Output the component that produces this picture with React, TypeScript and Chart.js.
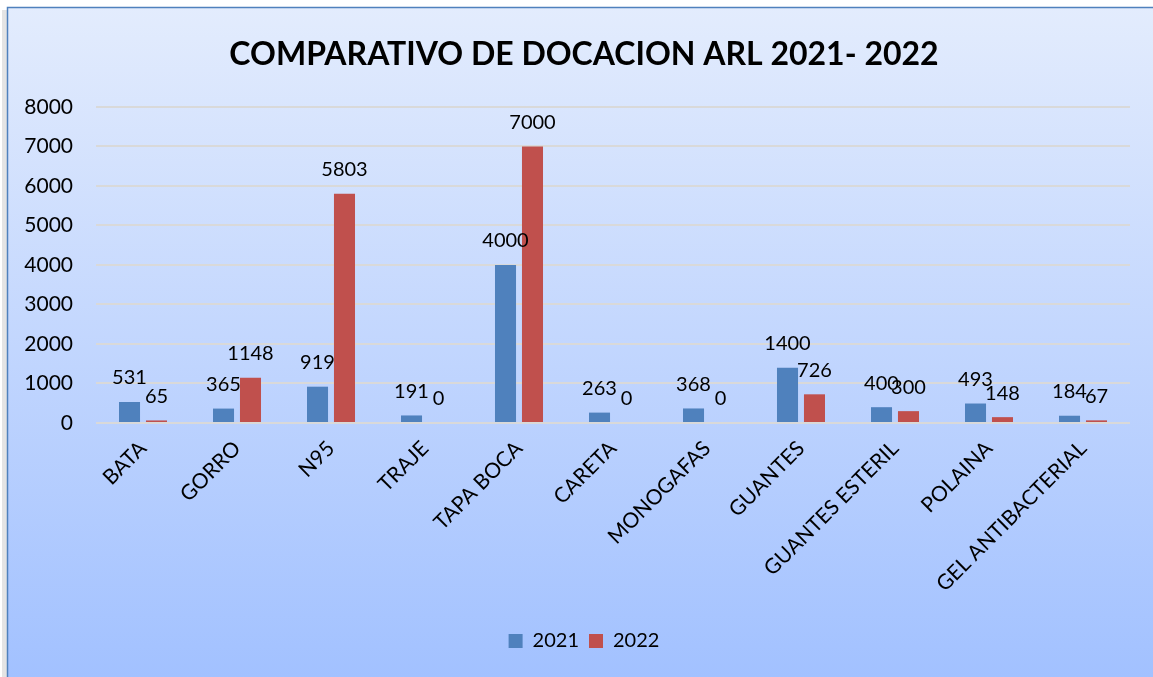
import React, { useEffect, useRef } from 'react';
import { Chart, registerables } from 'chart.js';

Chart.register(...registerables);

const categories = [
  'BATA',
  'GORRO',
  'N95',
  'TRAJE',
  'TAPA BOCA',
  'CARETA',
  'MONOGAFAS',
  'GUANTES',
  'GUANTES ESTERIL',
  'POLAINA',
  'GEL ANTIBACTERIAL',
];
const values2021 = [531, 365, 919, 191, 4000, 263, 368, 1400, 400, 493, 184];
const values2022 = [65, 1148, 5803, 0, 7000, 0, 0, 726, 300, 148, 67];
const seriesNames = ['2021', '2022'];
const yMax = 8000;
const yStep = 1000;
const chartTitle = 'COMPARATIVO DE DOCACION ARL 2021- 2022';

const FONT = 'Lato, "Open Sans", sans-serif';

const backgroundPlugin = {
  id: 'bgPanel',
  beforeDraw(chart: any) {
    const { ctx, width, height } = chart;
    ctx.save();
    ctx.fillStyle = '#ffffff';
    ctx.fillRect(0, 0, width, height);
    ctx.fillStyle = '#e4e4e4';
    ctx.fillRect(2, 10, 5, height - 10);
    const g = ctx.createLinearGradient(0, 7, 0, height);
    g.addColorStop(0, '#e3ecfd');
    g.addColorStop(1, '#a2c1ff');
    ctx.fillStyle = g;
    ctx.fillRect(7, 7, width - 7, height - 7);
    ctx.strokeStyle = '#4f81bd';
    ctx.lineWidth = 1.5;
    ctx.beginPath();
    ctx.moveTo(7.5, height);
    ctx.lineTo(7.5, 7.5);
    ctx.lineTo(width, 7.5);
    ctx.stroke();
    ctx.restore();
  },
};

const dataLabelPlugin = {
  id: 'barValueLabels',
  afterDatasetsDraw(chart: any) {
    const { ctx } = chart;
    ctx.save();
    ctx.font = `20px ${FONT}`;
    ctx.fillStyle = '#000000';
    ctx.textAlign = 'center';
    ctx.textBaseline = 'middle';
    chart.data.datasets.forEach((ds: any, di: number) => {
      const meta = chart.getDatasetMeta(di);
      meta.data.forEach((bar: any, i: number) => {
        ctx.fillText(String(ds.data[i]), bar.x, bar.y - 24);
      });
    });
    ctx.restore();
  },
};

export default function App() {
  const canvasRef = useRef<HTMLCanvasElement | null>(null);

  useEffect(() => {
    document.body.style.margin = '0';
    const canvas = canvasRef.current;
    if (!canvas) return;
    const chart = new Chart(canvas, {
      type: 'bar',
      data: {
        labels: categories,
        datasets: [
          {
            label: seriesNames[0],
            data: values2021,
            backgroundColor: '#4f81bd',
            categoryPercentage: 0.574,
            barPercentage: 0.78,
          },
          {
            label: seriesNames[1],
            data: values2022,
            backgroundColor: '#c0504d',
            categoryPercentage: 0.574,
            barPercentage: 0.78,
          },
        ],
      },
      options: {
        animation: false,
        responsive: false,
        devicePixelRatio: 1,
        layout: { padding: { left: 0, right: -15, top: 0, bottom: 16 } },
        plugins: {
          title: {
            display: true,
            text: chartTitle,
            color: '#000000',
            font: { family: FONT, size: 32, weight: 'bold' },
            padding: { top: 35.5, bottom: 33 },
          },
          legend: {
            display: true,
            position: 'bottom',
            labels: {
              boxWidth: 14,
              boxHeight: 14,
              padding: 10,
              color: '#000000',
              font: { family: FONT, size: 20 },
            },
          },
          tooltip: { enabled: false },
        },
        scales: {
          x: {
            grid: { display: false, drawTicks: false },
            border: { display: false },
            ticks: {
              color: '#000000',
              font: { family: FONT, size: 21 },
              maxRotation: 45,
              minRotation: 45,
              autoSkip: false,
              padding: 13,
            },
            afterFit(scale: any) {
              scale.height = 198;
            },
          },
          y: {
            min: 0,
            max: yMax,
            grid: { color: '#d9d9d9', lineWidth: 2, drawTicks: false },
            border: { display: false },
            ticks: {
              stepSize: yStep,
              color: '#000000',
              font: { family: FONT, size: 21 },
              padding: 23,
              callback: (v: any) => String(v),
            },
            afterFit(scale: any) {
              scale.width = 96;
            },
          },
          yRightSpace: {
            position: 'right',
            min: 0,
            max: yMax,
            grid: { display: false, drawTicks: false },
            border: { display: false },
            ticks: { display: false },
            afterFit(scale: any) {
              scale.width = 38;
            },
          },
        },
      },
      plugins: [backgroundPlugin, dataLabelPlugin],
    });
    return () => chart.destroy();
  }, []);

  return (
    <canvas
      ref={canvasRef}
      width={1153}
      height={677}
      style={{ display: 'block', width: 1153, height: 677 }}
    />
  );
}
